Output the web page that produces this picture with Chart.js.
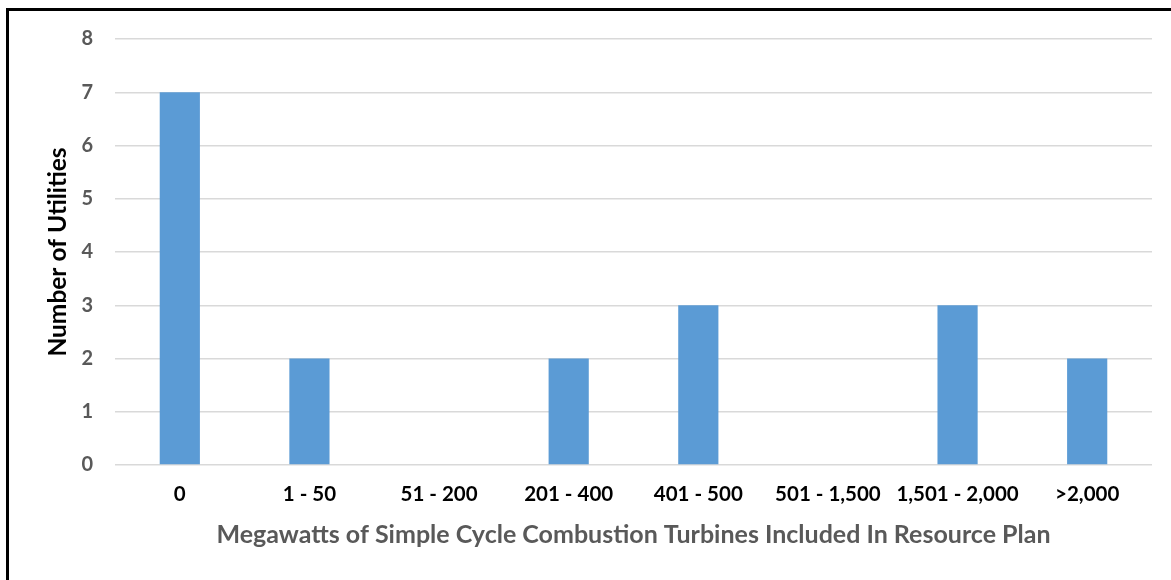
<!DOCTYPE html>
<html>
<head>
<meta charset="utf-8">
<script src="https://cdn.jsdelivr.net/npm/chart.js@4"></script>
<style>
  html, body { margin: 0; padding: 0; background: #fff; overflow: hidden; }
  #wrap { position: relative; width: 1171px; height: 580px; }
  #frame { position: absolute; left: 6px; top: 8px; width: 1200px; height: 600px;
           border-top: 3px solid #000; border-left: 3px solid #000; pointer-events: none; }
  canvas { position: absolute; left: 0; top: 0; }
</style>
</head>
<body>
<div id="wrap">
  <canvas id="chart" width="1171" height="580"></canvas>
  <div id="frame"></div>
</div>
<script>
// chart data
const categories = ['0', '1 - 50', '51 - 200', '201 - 400', '401 - 500', '501 - 1,500', '1,501 - 2,000', '>2,000'];
const utilities = [7, 2, 0, 2, 3, 0, 3, 2];
const yTicks = [0, 1, 2, 3, 4, 5, 6, 7, 8];

const FONT = 'Lato, "Open Sans", sans-serif';

const ctx = document.getElementById('chart').getContext('2d');
const chart = new Chart(ctx, {
    type: 'bar',
    data: {
        labels: categories,
        datasets: [{
            data: utilities,
            backgroundColor: '#5b9bd5',
            borderWidth: 0,
            categoryPercentage: 1,
            barPercentage: 0.31
        }]
    },
    options: {
        responsive: false,
        animation: false,
        devicePixelRatio: 1,
        layout: { padding: { top: 39, right: 19, bottom: 0, left: 0 } },
        plugins: {
            legend: { display: false },
            tooltip: { enabled: false }
        },
        scales: {
            x: {
                grid: { display: false, drawTicks: false },
                border: { display: false },
                ticks: {
                    color: '#000',
                    font: { family: FONT, size: 20.5, weight: 'bold' },
                    padding: 17,
                    maxRotation: 0,
                    autoSkip: false
                },
                title: {
                    display: true,
                    text: 'Megawatts of Simple Cycle Combustion Turbines Included In Resource Plan',
                    color: '#595959',
                    font: { family: FONT, size: 25, weight: 'bold' },
                    padding: { top: 0, bottom: 30 }
                },
                afterFit: function (scale) { scale.height = 115; }
            },
            y: {
                min: 0,
                max: 8,
                afterBuildTicks: function (scale) {
                    scale.ticks = yTicks.map(v => ({ value: v }));
                },
                grid: { color: '#d9d9d9', lineWidth: 1.5, drawTicks: false },
                border: { display: false },
                ticks: {
                    color: '#595959',
                    font: { family: FONT, size: 20, weight: 'bold' },
                    padding: 22
                },
                title: {
                    display: true,
                    text: 'Number of Utilities',
                    color: '#000',
                    font: { family: FONT, size: 24.5, weight: 'bold' },
                    padding: { top: 43, bottom: 0 }
                },
                afterFit: function (scale) { scale.width = 115; }
            }
        }
    }
});
</script>
</body>
</html>
